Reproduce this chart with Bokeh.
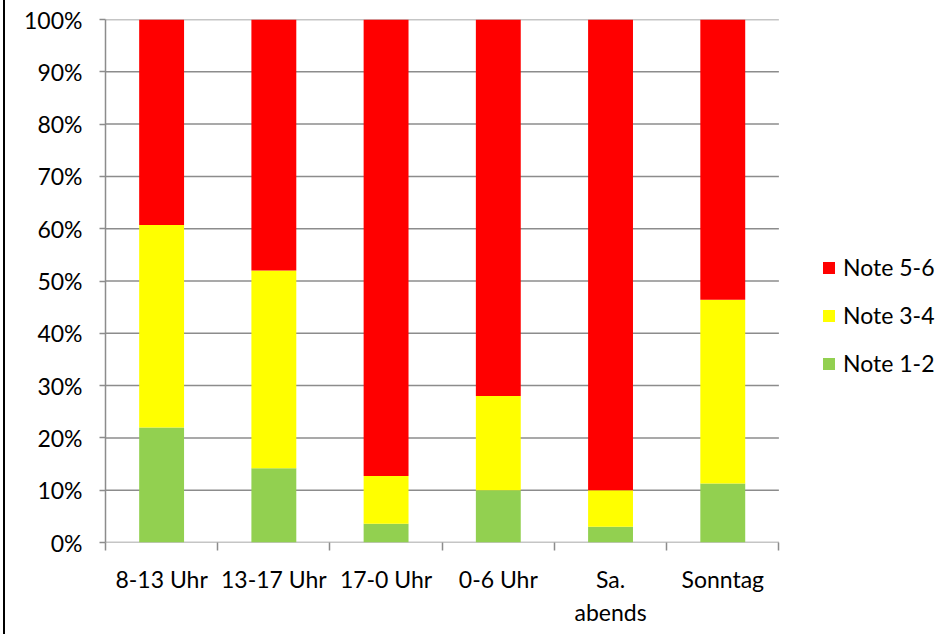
from bokeh.plotting import figure
from bokeh.models import (ColumnDataSource, FixedTicker, Legend, LegendItem,
                          PrintfTickFormatter, Range1d)
from bokeh.embed import file_html
from bokeh.resources import INLINE

categories = ["8-13 Uhr", "13-17 Uhr", "17-0 Uhr", "0-6 Uhr", "Sa.\nabends", "Sonntag"]
note_1_2 = [22.0, 14.2, 3.6, 10.0, 3.0, 11.3]
note_3_4 = [38.7, 37.8, 9.1, 18.0, 7.0, 35.1]
note_5_6 = [39.3, 48.0, 87.3, 72.0, 90.0, 53.6]
series_names = ["Note 1-2", "Note 3-4", "Note 5-6"]
series_colors = ["#92D050", "#FFFF00", "#FF0000"]
y_ticks = [0, 10, 20, 30, 40, 50, 60, 70, 80, 90, 100]

FONT = "Lato"
FS = "23px"
GRID = "#8c8c8c"

n = len(categories)
xs = [i + 0.5 for i in range(n)]
src = ColumnDataSource(dict(x=xs, n12=note_1_2, n34=note_3_4, n56=note_5_6))

# frame extends to the right so that the legend fits inside it
p = figure(width=940, height=634, output_backend="svg", toolbar_location=None,
           x_range=Range1d(0, 7.44), y_range=Range1d(0, 100),
           min_border_left=100, min_border_right=5, min_border_top=19,
           min_border_bottom=92)
p.outline_line_color = None
p.background_fill_color = "white"
p.border_fill_color = "white"
p.styles = {"margin-left": "3px", "border-left": "2px solid black"}

# horizontal gridlines (only over the category area)
p.segment(x0=0, x1=n, y0=y_ticks, y1=y_ticks, line_color=GRID, line_width=1.5)

renderers = p.vbar_stack(["n12", "n34", "n56"], x="x", width=0.4, source=src,
                         color=series_colors, line_color=None)

# axes
xaxis = p.xaxis[0]
xaxis.ticker = FixedTicker(ticks=xs, minor_ticks=list(range(n + 1)))
xaxis.major_label_overrides = {x: c for x, c in zip(xs, categories)}
xaxis.major_tick_out = 0
xaxis.major_tick_in = 0
xaxis.minor_tick_out = 8
xaxis.minor_tick_in = 0
xaxis.minor_tick_line_color = GRID
xaxis.minor_tick_line_width = 1.5
xaxis.axis_line_color = None
xaxis.major_label_text_font = FONT
xaxis.major_label_text_font_size = FS
xaxis.major_label_text_color = "black"
xaxis.major_label_standoff = 14

yaxis = p.yaxis[0]
yaxis.ticker = FixedTicker(ticks=y_ticks, minor_ticks=[])
yaxis.formatter = PrintfTickFormatter(format="%d%%")
yaxis.major_tick_out = 6
yaxis.major_tick_in = 0
yaxis.major_tick_line_color = GRID
yaxis.major_tick_line_width = 1.5
yaxis.axis_line_color = GRID
yaxis.axis_line_width = 1.5
yaxis.major_label_text_font = FONT
yaxis.major_label_text_font_size = FS
yaxis.major_label_text_color = "black"
yaxis.major_label_standoff = 17

p.xgrid.visible = False
p.ygrid.visible = False

items = [LegendItem(label=series_names[i], renderers=[renderers[i]]) for i in (2, 1, 0)]
legend = Legend(items=items, location=(716, 165), orientation="vertical",
                glyph_width=15, glyph_height=15, label_standoff=7,
                label_height=28, spacing=20, padding=0, margin=0,
                border_line_color=None, background_fill_alpha=0,
                label_text_font=FONT, label_text_font_size=FS,
                label_text_color="black")
p.add_layout(legend, "center")

open("out.html", "w").write(file_html(p, INLINE))
